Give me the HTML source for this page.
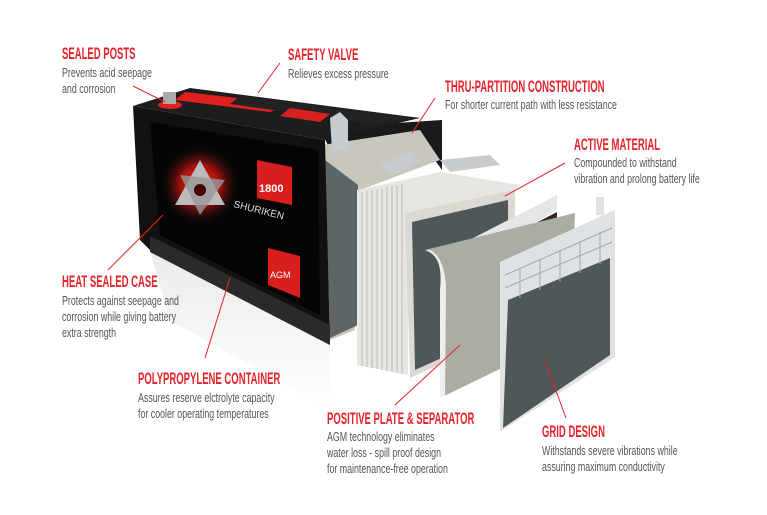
<!DOCTYPE html>
<html><head><meta charset="utf-8"><style>
html,body{margin:0;padding:0;background:#fff;}
body{width:767px;height:515px;overflow:hidden;position:relative;font-family:"Liberation Sans",sans-serif;}
.t{position:absolute;color:#e4232b;font-size:17px;font-weight:bold;white-space:nowrap;line-height:18px;transform:scaleX(0.56);transform-origin:0 0;}
.d{position:absolute;color:#555;font-size:13px;line-height:16px;white-space:nowrap;transform:scaleX(0.68);transform-origin:0 0;}
svg{position:absolute;left:0;top:0;}
</style></head><body>
<svg width="767" height="515" viewBox="0 0 767 515">
<defs>
<radialGradient id="glow" cx="0.5" cy="0.5" r="0.5"><stop offset="0" stop-color="#ff3a20"/><stop offset="0.5" stop-color="#a0100c"/><stop offset="1" stop-color="#111" stop-opacity="0"/></radialGradient>
<linearGradient id="refl" x1="0" y1="0" x2="0" y2="1"><stop offset="0" stop-color="#ddd"/><stop offset="1" stop-color="#fff"/></linearGradient>
</defs>
<polygon points="150,250 330,345 330,410 170,320" fill="url(#refl)" opacity="0.6"/>
<polygon points="320,128 442,120 442,170 420,140 330,150" fill="#1a1a1a"/>
<polygon points="322,145 420,130 440,160 360,190 355,330 330,340 325,150" fill="#c9c6bd"/>
<polygon points="325,160 358,185 358,325 330,338" fill="#5e6566"/>
<polygon points="133,106 190,88 420,118 325,140" fill="#1d1d1d"/>
<polygon points="185,92 290,104 270,112 175,100" fill="#e02020"/>
<polygon points="240,96 420,118 380,125 230,104" fill="#222"/>
<polygon points="290,108 330,114 320,122 280,116" fill="#d92020"/>
<polygon points="133,106 325,140 330,345 150,250 140,240" fill="#111"/>
<polygon points="150,122 318,150 320,315 160,235" fill="#050505"/>
<polygon points="150,236 330,325 330,345 150,252" fill="#2a2a2a"/>
<circle cx="200" cy="185" r="40" fill="url(#glow)"/>
<polygon points="200,160 225,205 175,205" fill="#bbb"/>
<polygon points="180,175 225,180 200,215" fill="#999" opacity="0.8"/>
<circle cx="200" cy="190" r="6" fill="#400"/>
<text x="233" y="207" fill="#ddd" font-size="10" font-family="Liberation Sans" transform="rotate(14 233 207)">SHURIKEN</text>
<polygon points="257,160 292,167 292,205 257,198" fill="#d81e1e"/>
<text x="259" y="192" fill="#fff" font-size="11" font-weight="bold" font-family="Liberation Sans">1800</text>
<polygon points="268,248 300,256 300,298 268,285" fill="#d81e1e"/>
<text x="270" y="278" fill="#fff" font-size="9" font-family="Liberation Sans">AGM</text>
<ellipse cx="170" cy="105" rx="12" ry="4" fill="#d22"/>
<rect x="163" y="92" width="13" height="12" fill="#aaa"/>
<polygon points="357,190 440,172 520,185 510,195 408,215 408,375 357,365" fill="#e8e6e0"/>
<g stroke="#bbb" stroke-width="1">
<line x1="362" y1="192" x2="362" y2="366"/><line x1="367" y1="191" x2="367" y2="367"/><line x1="372" y1="190" x2="372" y2="368"/><line x1="377" y1="189" x2="377" y2="369"/><line x1="382" y1="188" x2="382" y2="370"/><line x1="387" y1="187" x2="387" y2="371"/><line x1="392" y1="186" x2="392" y2="372"/><line x1="397" y1="185" x2="397" y2="373"/><line x1="402" y1="184" x2="402" y2="374"/>
</g>
<polygon points="405,213 515,190 515,330 410,378" fill="#dcd9d2"/>
<polygon points="412,222 508,200 508,328 415,370" fill="#4f5759"/>
<polygon points="380,165 410,150 420,160 395,175" fill="#c7ccd0"/>
<polygon points="440,160 490,155 500,165 450,172" fill="#c7ccd0"/>
<polygon points="330,118 340,112 348,120 348,150 332,150" fill="#c7ccd0"/>
<polygon points="450,250 557,195 557,210 455,268" fill="#e6e6e6"/>
<polygon points="455,265 557,212 557,250 455,300" fill="#3a2420"/>
<path d="M425,250 C440,255 442,270 440,290 L440,398 L570,335 L575,213 Z" fill="#a9ada4"/>
<path d="M425,250 C440,255 442,270 440,290 L440,398 L445,396 L446,290 C446,270 440,255 430,250 Z" fill="#eee"/>
<polygon points="500,262 615,210 615,357 500,432" fill="#dfe2e4"/>
<polygon points="508,300 610,258 610,355 503,428" fill="#4f5759"/>
<g stroke="#9aa" stroke-width="1">
<line x1="505" y1="275" x2="612" y2="228"/><line x1="505" y1="288" x2="612" y2="242"/>
<line x1="520" y1="268" x2="520" y2="298"/><line x1="540" y1="259" x2="540" y2="290"/><line x1="560" y1="250" x2="560" y2="282"/><line x1="580" y1="241" x2="580" y2="273"/><line x1="600" y1="232" x2="600" y2="264"/>
</g>
<rect x="596" y="197" width="8" height="18" fill="#dfe2e4"/>
<g stroke="#e4232b" stroke-width="1">
<line x1="133" y1="86" x2="165" y2="102"/>
<line x1="280" y1="63" x2="258" y2="93"/>
<line x1="435" y1="98" x2="412" y2="133"/>
<line x1="565" y1="163" x2="505" y2="196"/>
<line x1="108" y1="270" x2="163" y2="215"/>
<line x1="205" y1="358" x2="230" y2="278"/>
<line x1="395" y1="405" x2="460" y2="345"/>
<line x1="566" y1="418" x2="545" y2="361"/>
</g>
</svg>
<div class="t" style="left:62px;top:45px">SEALED POSTS</div>
<div class="d" style="left:62px;top:65px">Prevents acid seepage<br>and corrosion</div>
<div class="t" style="left:288px;top:46px">SAFETY VALVE</div>
<div class="d" style="left:288px;top:66px">Relieves excess pressure</div>
<div class="t" style="left:445px;top:78px">THRU-PARTITION CONSTRUCTION</div>
<div class="d" style="left:445px;top:97px">For shorter current path with less resistance</div>
<div class="t" style="left:574px;top:136px">ACTIVE MATERIAL</div>
<div class="d" style="left:574px;top:155px">Compounded to withstand<br>vibration and prolong battery life</div>
<div class="t" style="left:62px;top:273px">HEAT SEALED CASE</div>
<div class="d" style="left:62px;top:293px">Protects against seepage and<br>corrosion while giving battery<br>extra strength</div>
<div class="t" style="left:138px;top:370px">POLYPROPYLENE CONTAINER</div>
<div class="d" style="left:138px;top:390px">Assures reserve elctrolyte capacity<br>for cooler operating temperatures</div>
<div class="t" style="left:327px;top:410px">POSITIVE PLATE &amp; SEPARATOR</div>
<div class="d" style="left:327px;top:429px">AGM technology eliminates<br>water loss - spill proof design<br>for maintenance-free operation</div>
<div class="t" style="left:542px;top:423px">GRID DESIGN</div>
<div class="d" style="left:542px;top:443px">Withstands severe vibrations while<br>assuring maximum conductivity</div>
</body></html>
